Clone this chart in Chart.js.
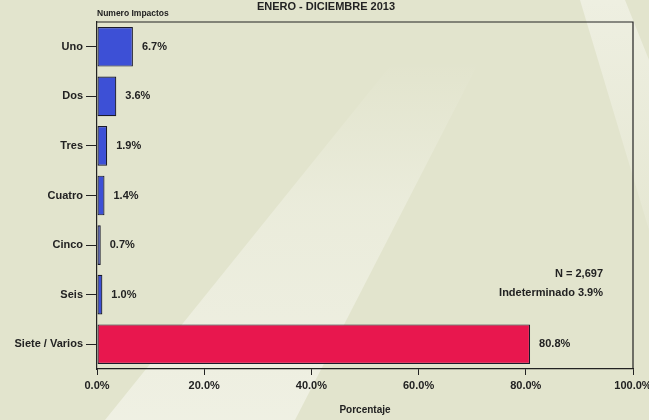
<!DOCTYPE html>
<html><head><meta charset="utf-8">
<script src="https://cdn.jsdelivr.net/npm/chart.js@4"></script>
<style>html,body{margin:0;padding:0;background:#e2e4cd;}#wrap{width:649px;height:420px;position:relative;}</style>
</head><body><div id="wrap"><canvas id="c" width="649" height="420"></canvas></div>
<script>
const categories = ["Uno","Dos","Tres","Cuatro","Cinco","Seis","Siete / Varios"];
const values = [6.7, 3.6, 1.9, 1.4, 0.7, 1.0, 80.8];
const xTicks = [0, 20, 40, 60, 80, 100];
const chartTitle = "ENERO - DICIEMBRE 2013";
const yTitle = "Numero Impactos";
const xTitle = "Porcentaje";
const notes = ["N = 2,697", "Indeterminado 3.9%"];

const FONT = "'Liberation Sans', Arial, sans-serif";
const barColors = values.map((v,i)=> i===categories.length-1 ? "#e8174e" : "#3d50d6");

const deco = {
  id:'deco',
  beforeDraw(chart){
    const c = chart.ctx;
    c.save();
    c.fillStyle = '#e2e4cd';
    c.fillRect(0,0,chart.width,chart.height);
    let g = c.createLinearGradient(0,420,0,60);
    g.addColorStop(0,'rgba(250,250,245,0.55)');
    g.addColorStop(0.6,'rgba(250,250,245,0.35)');
    g.addColorStop(1,'rgba(250,250,245,0)');
    c.fillStyle = g;
    c.beginPath();
    c.moveTo(105,420); c.lineTo(295,420); c.lineTo(480,60); c.lineTo(395,60);
    c.closePath(); c.fill();
    let g2 = c.createLinearGradient(0,0,0,260);
    g2.addColorStop(0,'rgba(250,250,245,0.5)');
    g2.addColorStop(1,'rgba(250,250,245,0.1)');
    c.fillStyle = g2;
    c.beginPath();
    c.moveTo(580,0); c.lineTo(625,0); c.lineTo(649,60); c.lineTo(649,230);
    c.closePath(); c.fill();
    c.restore();
  },
  afterDatasetsDraw(chart){
    const c = chart.ctx, a = chart.chartArea;
    c.save();
    c.strokeStyle = '#222'; c.lineWidth = 1.2;
    c.beginPath(); c.moveTo(a.left, a.top); c.lineTo(a.right, a.top); c.lineTo(a.right, a.bottom); c.stroke();
    c.fillStyle = '#222'; c.font = "bold 11px " + FONT; c.textBaseline = 'middle'; c.textAlign='left';
    const meta = chart.getDatasetMeta(0);
    meta.data.forEach((bar,i)=>{
      c.fillText(values[i].toFixed(1) + '%', bar.x + 9, bar.y);
    });
    c.textAlign = 'right';
    c.fillText(notes[0], 603, 274);
    c.fillText(notes[1], 603, 293);
    c.textAlign = 'center';
    c.fillText(chartTitle, 326, 7);
    c.font = "bold 8.5px " + FONT; c.textAlign = 'left';
    c.fillText(yTitle, 97, 14);
    c.restore();
  }
};

new Chart(document.getElementById('c'), {
  type: 'bar',
  data: { labels: categories, datasets: [{ data: values, backgroundColor: barColors, borderColor: '#1a1a2a', borderWidth: 1.2, borderSkipped: false, barPercentage: 0.8, categoryPercentage: 1 }] },
  options: {
    indexAxis: 'y', responsive: false, animation: false,
    layout: { padding: { top: 22, right: 16, left: 0, bottom: 0 } },
    plugins: { legend: { display: false }, tooltip: { enabled: false } },
    scales: {
      x: {
        min: 0, max: 100,
        afterBuildTicks(s){ s.ticks = xTicks.map(v=>({value:v})); },
        afterFit(s){ s.height = 51; s.paddingLeft = 0; s.paddingRight = 0; },
        ticks: { color: '#222', font: { family: FONT, size: 11, weight: 'bold' }, padding: 4, maxRotation: 0, autoSkip: false, callback: v => v.toFixed(1) + '%' },
        grid: { drawOnChartArea: false, drawTicks: true, tickLength: 6, color: '#222' },
        border: { display: true, color: '#222', width: 1.2 },
        title: { display: true, text: xTitle, color: '#222', font: { family: FONT, size: 10, weight: 'bold' }, padding: { top: 0, bottom: 4 } }
      },
      y: {
        afterFit(s){ s.width = 97; s.paddingTop = 0; s.paddingBottom = 0; },
        ticks: { color: '#222', font: { family: FONT, size: 11, weight: 'bold' }, padding: 3 },
        grid: { offset: false, drawOnChartArea: false, drawTicks: true, tickLength: 11, color: '#222' },
        border: { display: true, color: '#222', width: 1.2 }
      }
    }
  },
  plugins: [deco]
});
</script></body></html>
